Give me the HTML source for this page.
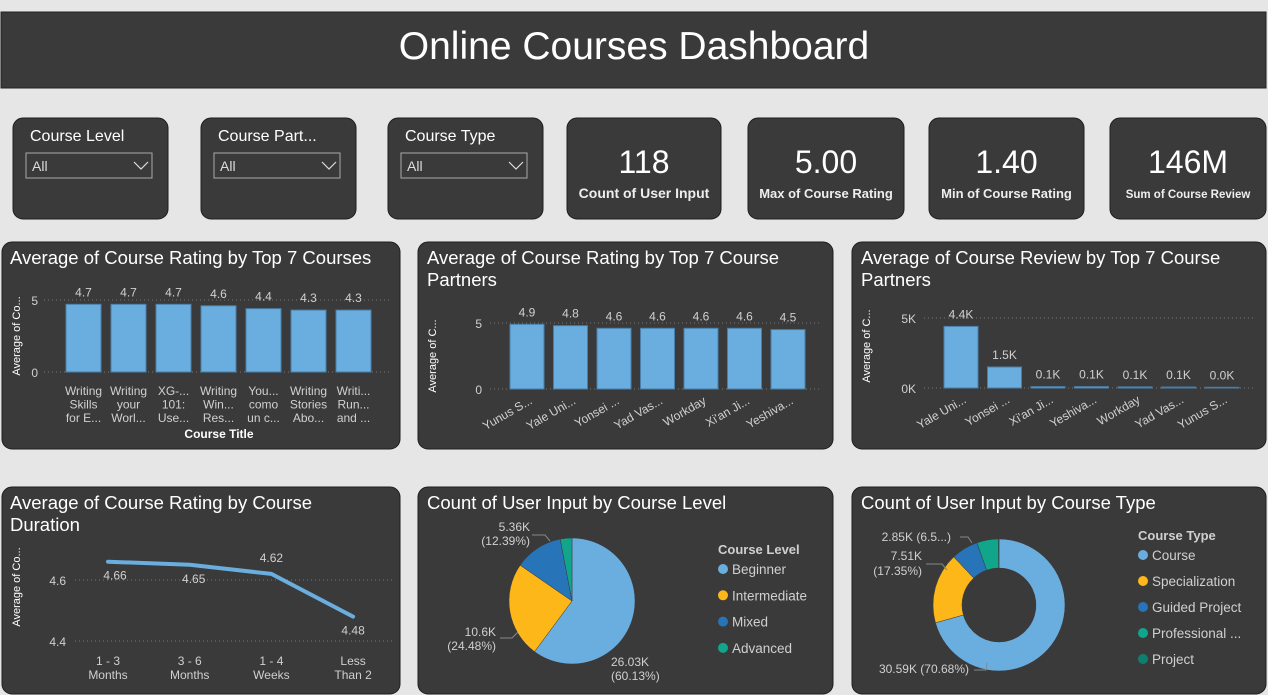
<!DOCTYPE html>
<html><head><meta charset="utf-8">
<style>
body{margin:0;width:1268px;height:695px;background:#e6e6e6;overflow:hidden;font-family:"Liberation Sans",Arial,sans-serif}
svg{position:absolute;left:0;top:0}
</style></head><body>
<svg id="s" width="1268" height="695" xmlns="http://www.w3.org/2000/svg" font-family="Liberation Sans, Arial, sans-serif">
<g>
<rect x="1" y="12" width="1265" height="76" fill="#3a3a3a" stroke="#222" />
<text x="634" y="59" fill="#fff" font-size="39" text-anchor="middle">Online Courses Dashboard</text>
</g>
<g id="panels"></g>
<g id="marks"></g>
</svg>
<script>
// ---- data ----
const c1Cats=[["Writing","Skills","for E..."],["Writing","your","Worl..."],["XG-...","101:","Use..."],["Writing","Win...","Res..."],["You...","como","un c..."],["Writing","Stories","Abo..."],["Writi...","Run...","and ..."]];
const c1Vals=[4.7,4.7,4.7,4.6,4.4,4.3,4.3];
const c2Cats=["Yunus S...","Yale Uni...","Yonsei ...","Yad Vas...","Workday","Xi'an Ji...","Yeshiva..."];
const c2Vals=[4.9,4.8,4.6,4.6,4.6,4.6,4.5];
const c3Cats=["Yale Uni...","Yonsei ...","Xi'an Ji...","Yeshiva...","Workday","Yad Vas...","Yunus S..."];
const c3Vals=[4.4,1.5,0.1,0.1,0.08,0.07,0.05];
const c3Labels=["4.4K","1.5K","0.1K","0.1K","0.1K","0.1K","0.0K"];
const durCats=[["1 - 3","Months"],["3 - 6","Months"],["1 - 4","Weeks"],["Less","Than 2"]];
const durVals=[4.66,4.65,4.62,4.48];
const lvlCats=["Beginner","Intermediate","Mixed","Advanced"];
const lvlVals=[26.03,10.6,5.36,1.3];
const typeCats=["Course","Specialization","Guided Project","Professional ...","Project"];
const typeVals=[30.59,7.51,2.85,2.3,0.05];
const pieColors=["#6aaee0","#fdb718","#2874b9","#11a58c","#0e7f6e"];

const NS="http://www.w3.org/2000/svg";
const P=document.getElementById('panels'),M=document.getElementById('marks');
function el(t,a,parent,txt){const e=document.createElementNS(NS,t);for(const k in a)e.setAttribute(k,a[k]);if(txt!==undefined)e.textContent=txt;(parent||M).appendChild(e);return e;}
function panel(x,y,w,h,name){const r=el('rect',{x:x,y:y,width:w,height:h,rx:10,fill:'#3a3a3a',stroke:'#1e1e1e','stroke-width':1},P);

}
function txt(x,y,s,size,o){o=o||{};const t=el('text',Object.assign({x:x,y:y,fill:o.fill||'#fff','font-size':size,'text-anchor':o.anchor||'start','font-weight':o.bold?'bold':'normal'},o.extra||{}),o.parent||M,s);return t;}
const g='#d0d0d0';

// slicers
[[13,'Course Level','course-level-slicer'],[201,'Course Part...','course-partner-slicer'],[388,'Course Type','course-type-slicer']].forEach(([x,l,n])=>{
 panel(x,118,155,101,n);
 txt(x+17,141,l,16);
 const b=el('rect',{x:x+13,y:153,width:126,height:25,fill:'none',stroke:'#aaa'});
 
 
 txt(x+19,171,'All',14,{fill:'#ddd'});
 el('path',{d:`M${x+121} 162 l7 7 l7 -7`,fill:'none',stroke:'#ddd','stroke-width':1.2});
});
// cards
[[567,154,'118','Count of User Input',14],[748,156,'5.00','Max of Course Rating',13],[929,155,'1.40','Min of Course Rating',13],[1110,156,'146M','Sum of Course Review',11.5]].forEach(([x,w,v,l,fs],i)=>{
 panel(x,118,w,101,'kpi-card-'+(i+1));
 txt(x+w/2,173,v,32,{anchor:'middle'});
 txt(x+w/2,198,l,fs,{anchor:'middle',bold:true,fill:'#eee'});
});
// chart panels
panel(2,242,398,207,'chart-rating-by-course');
panel(418,242,415,207,'chart-rating-by-partner');
panel(852,242,414,207,'chart-review-by-partner');
panel(2,487,398,207,'chart-rating-by-duration');
panel(418,487,415,207,'chart-users-by-level');
panel(852,487,414,207,'chart-users-by-type');
txt(10,264,'Average of Course Rating by Top 7 Courses',18.5);
txt(427,264,'Average of Course Rating by Top 7 Course',18.5);txt(427,286,'Partners',18.5);
txt(861,264,'Average of Course Review by Top 7 Course',18.5);txt(861,286,'Partners',18.5);
txt(10,509,'Average of Course Rating by Course',18.5);txt(10,531,'Duration',18.5);
txt(427,509,'Count of User Input by Course Level',18.5);
txt(861,509,'Count of User Input by Course Type',18.5);

function yTitle(x,y,s){txt(x,y,s,11,{extra:{transform:`rotate(-90 ${x} ${y})`},anchor:'middle'});}
function grid(x1,x2,y){el('line',{x1:x1,x2:x2,y1:y,y2:y,stroke:'#777','stroke-dasharray':'1 3'});}

function bars(cats,vals,labels,o){
 const ys=v=>o.y0-(v/o.max)*(o.y0-o.yTop);
 o.ticks.forEach((t,i)=>{grid(o.gx1,o.gx2,ys(t));txt(o.tickX,ys(t)+5,o.tickLabels[i],12,{fill:g,anchor:'end'});});
 vals.forEach((v,i)=>{
  const x=o.x0+i*o.pitch;
  const r=el('rect',{x:x,y:ys(v),width:o.bw,height:o.y0-ys(v),fill:'#6aaee0',stroke:'#4a7ea8','stroke-width':1});
  
  
  txt(x+o.bw/2,ys(v)-8,labels[i],12,{fill:g,anchor:'middle'});
  const c=cats[i];
  if(Array.isArray(c)){c.forEach((s,j)=>txt(x+o.bw/2,o.y0+23+j*13.5,s,12,{fill:g,anchor:'middle'}));}
  else{const cx=x+o.bw/2+6,cy=o.y0+14;txt(cx,cy,c,12,{fill:g,anchor:'end',extra:{transform:`rotate(-30 ${cx} ${cy})`}});}
 });
}
bars(c1Cats,c1Vals,c1Vals.map(v=>v.toFixed(1)),{y0:372,yTop:300,max:5,ticks:[0,5],tickLabels:['0','5'],tickX:38,gx1:44,gx2:392,x0:66,pitch:45,bw:35});
txt(219,438,'Course Title',12,{anchor:'middle',bold:true});
yTitle(20,336,'Average of Co...');
bars(c2Cats,c2Vals,c2Vals.map(v=>v.toFixed(1)),{y0:389,yTop:323,max:5,ticks:[0,5],tickLabels:['0','5'],tickX:482,gx1:490,gx2:820,x0:510,pitch:43.5,bw:34});
yTitle(436,356,'Average of C...');
bars(c3Cats,c3Vals,c3Labels,{y0:388,yTop:318,max:5,ticks:[0,5],tickLabels:['0K','5K'],tickX:916,gx1:924,gx2:1254,x0:944,pitch:43.5,bw:34});
yTitle(870,346,'Average of C...');

// line chart
(function(){
 const ys=v=>641-(v-4.4)/0.2*61;
 const xs=i=>108+i*81.7;
 [4.4,4.6].forEach(t=>{grid(75,392,ys(t));txt(66,ys(t)+5,t.toFixed(1),12,{fill:g,anchor:'end'});});
 yTitle(20,587,'Average of Co...');
 const pts=durVals.map((v,i)=>xs(i)+','+ys(v)).join(' ');
 const pl=el('polyline',{points:pts,fill:'none',stroke:'#6aaee0','stroke-width':4,'stroke-linejoin':'round','stroke-linecap':'round'});
 
 
 durVals.forEach((v,i)=>{
  const below=(i!==2);
  txt(xs(i)+(i==0?7:i==1?4:0),ys(v)+(below?18:-12),v.toFixed(2),12,{fill:g,anchor:'middle'});
  durCats[i].forEach((s,j)=>txt(xs(i),665+j*14,s,12,{fill:g,anchor:'middle'}));
 });
})();

function pie(cx,cy,r,ri,vals,prefix){
 const tot=vals.reduce((a,b)=>a+b,0);let a=-Math.PI/2;
 vals.forEach((v,i)=>{
  const a2=a+v/tot*Math.PI*2,lg=(a2-a)>Math.PI?1:0;
  const p=(ang,rr)=>[cx+rr*Math.cos(ang),cy+rr*Math.sin(ang)];
  const [x1,y1]=p(a,r),[x2,y2]=p(a2,r);
  let d;
  if(ri>0){const [x3,y3]=p(a2,ri),[x4,y4]=p(a,ri);d=`M${x1} ${y1}A${r} ${r} 0 ${lg} 1 ${x2} ${y2}L${x3} ${y3}A${ri} ${ri} 0 ${lg} 0 ${x4} ${y4}Z`;}
  else d=`M${cx} ${cy}L${x1} ${y1}A${r} ${r} 0 ${lg} 1 ${x2} ${y2}Z`;
  const s=el('path',{d:d,fill:pieColors[i],stroke:'#3a3a3a','stroke-width':0.5});
  
  
  a=a2;
 });
}
pie(572,601,63,0,lvlVals,'level');
pie(999,605,66,37,typeVals,'type');
function leg(x,y,title,cats,gap){
 txt(x,y,title,13,{bold:true,fill:g});
 cats.forEach((c,i)=>{const yy=y+20+i*gap;
  const d=el('circle',{cx:x+5,cy:yy-5,r:5,fill:pieColors[i]});
  
  
  txt(x+14,yy,c,13.5,{fill:g});});
}
leg(718,554,'Course Level',lvlCats,26.3);
leg(1138,540,'Course Type',typeCats,26);
txt(530,531,'5.36K',12,{fill:g,anchor:'end'});txt(530,545,'(12.39%)',12,{fill:g,anchor:'end'});
el('polyline',{points:'532,535 545,535 550,541',fill:'none',stroke:'#888'});
txt(496,636,'10.6K',12,{fill:g,anchor:'end'});txt(496,650,'(24.48%)',12,{fill:g,anchor:'end'});
el('polyline',{points:'500,638 512,638 518,632',fill:'none',stroke:'#888'});
txt(611,666,'26.03K',12,{fill:g});txt(611,680,'(60.13%)',12,{fill:g});
txt(951,541,'2.85K (6.5...)',12,{fill:g,anchor:'end'});
el('polyline',{points:'960,537 968,537 972,543',fill:'none',stroke:'#888'});
txt(922,560,'7.51K',12,{fill:g,anchor:'end'});txt(922,575,'(17.35%)',12,{fill:g,anchor:'end'});
el('polyline',{points:'926,564 942,564 947,570',fill:'none',stroke:'#888'});
txt(969,673,'30.59K (70.68%)',12,{fill:g,anchor:'end'});
el('polyline',{points:'974,670 986,670 987,663',fill:'none',stroke:'#888'});
</script>
</body></html>
